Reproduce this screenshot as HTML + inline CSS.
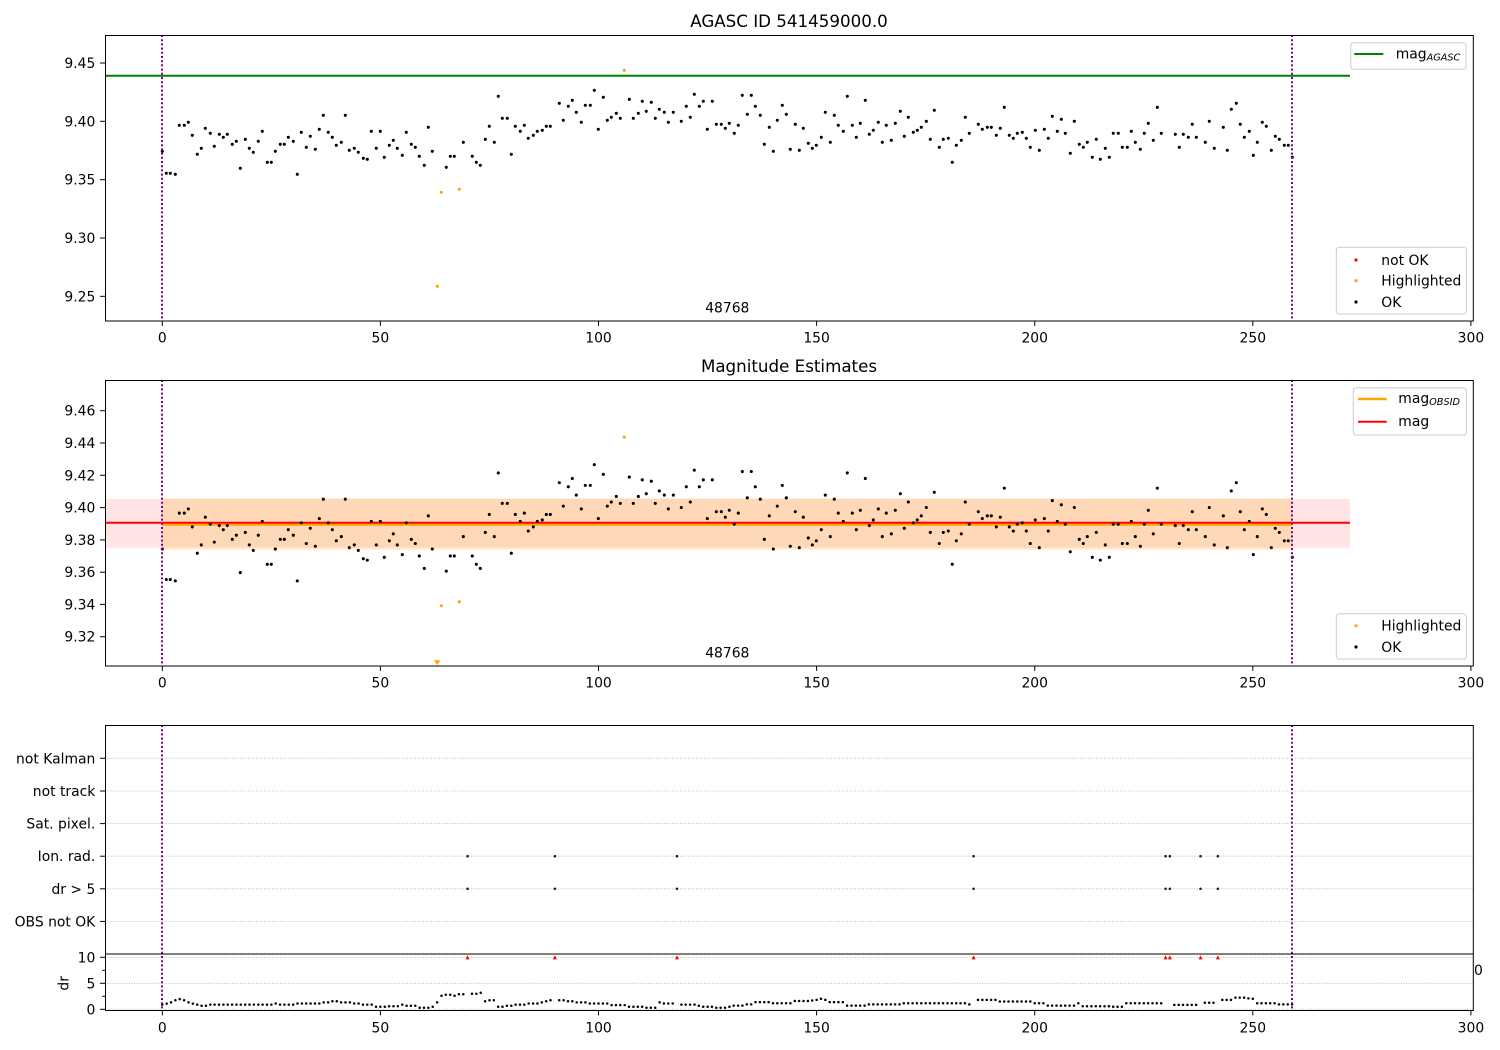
<!DOCTYPE html>
<html><head><meta charset="utf-8"><style>
html,body{margin:0;padding:0;background:#fff}
svg{display:block}
text{font-family:"DejaVu Sans","Liberation Sans",sans-serif;font-size:13.9px;fill:#000}
.t{font-size:16.7px}
.yl{text-anchor:end}
.xl{text-anchor:middle}
</style></head><body>
<svg width="1500" height="1050" viewBox="0 0 1500 1050" xmlns="http://www.w3.org/2000/svg">
<rect width="1500" height="1050" fill="#fff"/>

<!-- ================= PANEL 1 ================= -->
<text class="t" x="789" y="27" text-anchor="middle">AGASC ID 541459000.0</text>
<line x1="105" y1="75.7" x2="1350" y2="75.7" stroke="#008000" stroke-width="2"/>
<path fill="none" stroke="#000" stroke-width="3.1" stroke-linecap="round" d="M162.3 151.3h.01M166.3 173.3h.01M170.3 173.3h.01M175.3 174.3h.01M179.3 125.3h.01M184.3 125.3h.01M188.3 122.3h.01M192.3 135.3h.01M197.3 154.3h.01M201.3 148.3h.01M205.3 128.3h.01M210.3 133.3h.01M214.3 146.3h.01M219.3 134.3h.01M223.3 137.3h.01M227.3 134.3h.01M232.3 144.3h.01M236.3 141.3h.01M240.3 168.3h.01M245.3 139.3h.01M249.3 148.3h.01M253.3 152.3h.01M258.3 141.3h.01M262.3 131.3h.01M267.3 162.3h.01M271.3 162.3h.01M275.3 151.3h.01M280.3 144.3h.01M284.3 144.3h.01M288.3 137.3h.01M293.3 141.3h.01M297.3 174.3h.01M301.3 132.3h.01M306.3 147.3h.01M310.3 136.3h.01M315.3 149.3h.01M319.3 129.3h.01M323.3 115.3h.01M328.3 132.3h.01M332.3 137.3h.01M336.3 145.3h.01M341.3 142.3h.01M345.3 115.3h.01M349.3 150.3h.01M354.3 148.3h.01M358.3 152.3h.01M363.3 158.3h.01M367.3 159.3h.01M371.3 131.3h.01M376.3 148.3h.01M380.3 131.3h.01M384.3 157.3h.01M389.3 145.3h.01M393.3 140.3h.01M397.3 148.3h.01M402.3 155.3h.01M406.3 132.3h.01M411.3 144.3h.01M415.3 147.3h.01M419.3 156.3h.01M424.3 165.3h.01M428.3 127.3h.01M432.3 151.3h.01M446.3 167.3h.01M450.3 156.3h.01M454.3 156.3h.01M463.3 142.3h.01M472.3 156.3h.01M476.3 162.3h.01M480.3 165.3h.01M485.3 139.3h.01M489.3 126.3h.01M494.3 142.3h.01M498.3 96.3h.01M502.3 118.3h.01M507.3 118.3h.01M511.3 154.3h.01M515.3 126.3h.01M520.3 131.3h.01M524.3 125.3h.01M528.3 138.3h.01M533.3 135.3h.01M537.3 131.3h.01M542.3 130.3h.01M546.3 126.3h.01M550.3 126.3h.01M559.3 103.3h.01M563.3 120.3h.01M568.3 106.3h.01M572.3 100.3h.01M576.3 112.3h.01M581.3 122.3h.01M585.3 105.3h.01M590.3 105.3h.01M594.3 90.3h.01M598.3 129.3h.01M603.3 97.3h.01M607.3 120.3h.01M611.3 117.3h.01M616.3 113.3h.01M620.3 118.3h.01M629.3 99.3h.01M633.3 118.3h.01M638.3 113.3h.01M642.3 101.3h.01M646.3 111.3h.01M651.3 102.3h.01M655.3 118.3h.01M659.3 109.3h.01M664.3 112.3h.01M668.3 122.3h.01M673.3 112.3h.01M681.3 121.3h.01M686.3 106.3h.01M690.3 117.3h.01M694.3 94.3h.01M699.3 106.3h.01M703.3 101.3h.01M707.3 129.3h.01M712.3 101.3h.01M716.3 124.3h.01M721.3 124.3h.01M725.3 128.3h.01M729.3 123.3h.01M734.3 133.3h.01M738.3 125.3h.01M742.3 95.3h.01M747.3 114.3h.01M751.3 95.3h.01M755.3 106.3h.01M760.3 115.3h.01M764.3 144.3h.01M769.3 127.3h.01M773.3 151.3h.01M777.3 120.3h.01M782.3 105.3h.01M786.3 114.3h.01M790.3 149.3h.01M795.3 124.3h.01M799.3 150.3h.01M803.3 128.3h.01M808.3 143.3h.01M812.3 148.3h.01M816.3 145.3h.01M821.3 137.3h.01M825.3 112.3h.01M830.3 142.3h.01M834.3 115.3h.01M838.3 125.3h.01M843.3 131.3h.01M847.3 96.3h.01M852.3 125.3h.01M856.3 137.3h.01M860.3 123.3h.01M865.3 100.3h.01M869.3 134.3h.01M873.3 130.3h.01M878.3 122.3h.01M882.3 142.3h.01M886.3 125.3h.01M891.3 140.3h.01M895.3 123.3h.01M900.3 111.3h.01M904.3 136.3h.01M908.3 117.3h.01M913.3 132.3h.01M917.3 130.3h.01M921.3 127.3h.01M926.3 121.3h.01M930.3 139.3h.01M934.3 110.3h.01M939.3 147.3h.01M943.3 139.3h.01M948.3 138.3h.01M952.3 162.3h.01M956.3 145.3h.01M961.3 140.3h.01M965.3 117.3h.01M969.3 133.3h.01M978.3 124.3h.01M982.3 129.3h.01M987.3 127.3h.01M991.3 127.3h.01M996.3 135.3h.01M1000.3 128.3h.01M1004.3 107.3h.01M1009.3 135.3h.01M1013.3 138.3h.01M1017.3 133.3h.01M1022.3 132.3h.01M1026.3 138.3h.01M1030.3 147.3h.01M1035.3 130.3h.01M1039.3 150.3h.01M1044.3 129.3h.01M1048.3 138.3h.01M1052.3 116.3h.01M1057.3 131.3h.01M1061.3 119.3h.01M1065.3 133.3h.01M1070.3 153.3h.01M1074.3 121.3h.01M1079.3 144.3h.01M1083.3 147.3h.01M1087.3 142.3h.01M1092.3 157.3h.01M1096.3 139.3h.01M1100.3 159.3h.01M1105.3 148.3h.01M1109.3 157.3h.01M1113.3 133.3h.01M1118.3 133.3h.01M1122.3 147.3h.01M1127.3 147.3h.01M1131.3 131.3h.01M1135.3 142.3h.01M1140.3 149.3h.01M1144.3 133.3h.01M1148.3 123.3h.01M1153.3 140.3h.01M1157.3 107.3h.01M1161.3 133.3h.01M1175.3 134.3h.01M1179.3 147.3h.01M1183.3 134.3h.01M1188.3 137.3h.01M1192.3 124.3h.01M1196.3 137.3h.01M1205.3 142.3h.01M1209.3 121.3h.01M1214.3 148.3h.01M1223.3 127.3h.01M1227.3 150.3h.01M1231.3 109.3h.01M1236.3 103.3h.01M1240.3 124.3h.01M1244.3 137.3h.01M1249.3 131.3h.01M1253.3 155.3h.01M1257.3 142.3h.01M1262.3 122.3h.01M1266.3 126.3h.01M1271.3 150.3h.01M1275.3 136.3h.01M1279.3 139.3h.01M1284.3 145.3h.01M1288.3 145.3h.01M1292.3 157.3h.01"/>
<path fill="none" stroke="#ffa500" stroke-width="3.1" stroke-linecap="round" d="M437.3 286.3h.01M441.3 192.3h.01M459.3 189.3h.01M624.3 70.3h.01"/>
<line x1="162" y1="35" x2="162" y2="321" stroke="#800080" stroke-width="2" stroke-dasharray="2 2.2"/>
<line x1="1292" y1="35" x2="1292" y2="321" stroke="#800080" stroke-width="2" stroke-dasharray="2 2.2"/>
<text x="727.3" y="312.4" text-anchor="middle">48768</text>
<rect x="105.5" y="35.5" width="1367.8" height="285.5" fill="none" stroke="#000" stroke-width="1"/>
<g stroke="#000" stroke-width="1">
<line x1="100.1" y1="63" x2="105" y2="63"/><line x1="100.1" y1="121.33" x2="105" y2="121.33"/><line x1="100.1" y1="179.67" x2="105" y2="179.67"/><line x1="100.1" y1="238" x2="105" y2="238"/><line x1="100.1" y1="296.33" x2="105" y2="296.33"/>
<line x1="162.3" y1="321" x2="162.3" y2="325.9"/><line x1="380.4" y1="321" x2="380.4" y2="325.9"/><line x1="598.5" y1="321" x2="598.5" y2="325.9"/><line x1="816.6" y1="321" x2="816.6" y2="325.9"/><line x1="1034.7" y1="321" x2="1034.7" y2="325.9"/><line x1="1252.8" y1="321" x2="1252.8" y2="325.9"/><line x1="1470.9" y1="321" x2="1470.9" y2="325.9"/>
</g>
<text class="yl" x="95.3" y="68">9.45</text><text class="yl" x="95.3" y="126.3">9.40</text><text class="yl" x="95.3" y="184.7">9.35</text><text class="yl" x="95.3" y="243">9.30</text><text class="yl" x="95.3" y="301.3">9.25</text>
<text class="xl" x="162.3" y="342.4">0</text><text class="xl" x="380.4" y="342.4">50</text><text class="xl" x="598.5" y="342.4">100</text><text class="xl" x="816.6" y="342.4">150</text><text class="xl" x="1034.7" y="342.4">200</text><text class="xl" x="1252.8" y="342.4">250</text><text class="xl" x="1470.9" y="342.4">300</text>
<rect x="1350.7" y="42.7" width="115.3" height="26.6" rx="2.8" fill="#fff" fill-opacity="0.8" stroke="#cccccc" stroke-width="1"/>
<line x1="1354.3" y1="54" x2="1383.3" y2="54" stroke="#008000" stroke-width="2"/>
<text x="1395.7" y="58.3">mag<tspan font-size="9.7" font-style="italic" dy="2.2">AGASC</tspan></text>
<rect x="1336.3" y="247.3" width="130" height="66.7" rx="2.8" fill="#fff" fill-opacity="0.8" stroke="#cccccc" stroke-width="1"/>
<circle cx="1356" cy="260" r="1.6" fill="#ff0000"/><circle cx="1356" cy="280.7" r="1.6" fill="#ffa500"/><circle cx="1356" cy="302" r="1.6" fill="#000"/>
<text x="1381.3" y="265">not OK</text><text x="1381.3" y="285.7">Highlighted</text><text x="1381.3" y="307">OK</text>

<!-- ================= PANEL 2 ================= -->
<text class="t" x="789" y="372" text-anchor="middle">Magnitude Estimates</text>
<rect x="105" y="499" width="1245" height="48.7" fill="#ff0000" fill-opacity="0.1"/>
<rect x="162" y="498.3" width="1130" height="51.4" fill="#ffa500" fill-opacity="0.2"/>
<line x1="162" y1="524.7" x2="1292" y2="524.7" stroke="#ffa500" stroke-width="2"/>
<line x1="105" y1="522.7" x2="1350" y2="522.7" stroke="#ff0000" stroke-width="2"/>
<path fill="none" stroke="#000" stroke-width="3.1" stroke-linecap="round" vector-effect="non-scaling-stroke" transform="matrix(1 0 0 1.3839 0 339.66)" d="M162.3 151.3h.01M166.3 173.3h.01M170.3 173.3h.01M175.3 174.3h.01M179.3 125.3h.01M184.3 125.3h.01M188.3 122.3h.01M192.3 135.3h.01M197.3 154.3h.01M201.3 148.3h.01M205.3 128.3h.01M210.3 133.3h.01M214.3 146.3h.01M219.3 134.3h.01M223.3 137.3h.01M227.3 134.3h.01M232.3 144.3h.01M236.3 141.3h.01M240.3 168.3h.01M245.3 139.3h.01M249.3 148.3h.01M253.3 152.3h.01M258.3 141.3h.01M262.3 131.3h.01M267.3 162.3h.01M271.3 162.3h.01M275.3 151.3h.01M280.3 144.3h.01M284.3 144.3h.01M288.3 137.3h.01M293.3 141.3h.01M297.3 174.3h.01M301.3 132.3h.01M306.3 147.3h.01M310.3 136.3h.01M315.3 149.3h.01M319.3 129.3h.01M323.3 115.3h.01M328.3 132.3h.01M332.3 137.3h.01M336.3 145.3h.01M341.3 142.3h.01M345.3 115.3h.01M349.3 150.3h.01M354.3 148.3h.01M358.3 152.3h.01M363.3 158.3h.01M367.3 159.3h.01M371.3 131.3h.01M376.3 148.3h.01M380.3 131.3h.01M384.3 157.3h.01M389.3 145.3h.01M393.3 140.3h.01M397.3 148.3h.01M402.3 155.3h.01M406.3 132.3h.01M411.3 144.3h.01M415.3 147.3h.01M419.3 156.3h.01M424.3 165.3h.01M428.3 127.3h.01M432.3 151.3h.01M446.3 167.3h.01M450.3 156.3h.01M454.3 156.3h.01M463.3 142.3h.01M472.3 156.3h.01M476.3 162.3h.01M480.3 165.3h.01M485.3 139.3h.01M489.3 126.3h.01M494.3 142.3h.01M498.3 96.3h.01M502.3 118.3h.01M507.3 118.3h.01M511.3 154.3h.01M515.3 126.3h.01M520.3 131.3h.01M524.3 125.3h.01M528.3 138.3h.01M533.3 135.3h.01M537.3 131.3h.01M542.3 130.3h.01M546.3 126.3h.01M550.3 126.3h.01M559.3 103.3h.01M563.3 120.3h.01M568.3 106.3h.01M572.3 100.3h.01M576.3 112.3h.01M581.3 122.3h.01M585.3 105.3h.01M590.3 105.3h.01M594.3 90.3h.01M598.3 129.3h.01M603.3 97.3h.01M607.3 120.3h.01M611.3 117.3h.01M616.3 113.3h.01M620.3 118.3h.01M629.3 99.3h.01M633.3 118.3h.01M638.3 113.3h.01M642.3 101.3h.01M646.3 111.3h.01M651.3 102.3h.01M655.3 118.3h.01M659.3 109.3h.01M664.3 112.3h.01M668.3 122.3h.01M673.3 112.3h.01M681.3 121.3h.01M686.3 106.3h.01M690.3 117.3h.01M694.3 94.3h.01M699.3 106.3h.01M703.3 101.3h.01M707.3 129.3h.01M712.3 101.3h.01M716.3 124.3h.01M721.3 124.3h.01M725.3 128.3h.01M729.3 123.3h.01M734.3 133.3h.01M738.3 125.3h.01M742.3 95.3h.01M747.3 114.3h.01M751.3 95.3h.01M755.3 106.3h.01M760.3 115.3h.01M764.3 144.3h.01M769.3 127.3h.01M773.3 151.3h.01M777.3 120.3h.01M782.3 105.3h.01M786.3 114.3h.01M790.3 149.3h.01M795.3 124.3h.01M799.3 150.3h.01M803.3 128.3h.01M808.3 143.3h.01M812.3 148.3h.01M816.3 145.3h.01M821.3 137.3h.01M825.3 112.3h.01M830.3 142.3h.01M834.3 115.3h.01M838.3 125.3h.01M843.3 131.3h.01M847.3 96.3h.01M852.3 125.3h.01M856.3 137.3h.01M860.3 123.3h.01M865.3 100.3h.01M869.3 134.3h.01M873.3 130.3h.01M878.3 122.3h.01M882.3 142.3h.01M886.3 125.3h.01M891.3 140.3h.01M895.3 123.3h.01M900.3 111.3h.01M904.3 136.3h.01M908.3 117.3h.01M913.3 132.3h.01M917.3 130.3h.01M921.3 127.3h.01M926.3 121.3h.01M930.3 139.3h.01M934.3 110.3h.01M939.3 147.3h.01M943.3 139.3h.01M948.3 138.3h.01M952.3 162.3h.01M956.3 145.3h.01M961.3 140.3h.01M965.3 117.3h.01M969.3 133.3h.01M978.3 124.3h.01M982.3 129.3h.01M987.3 127.3h.01M991.3 127.3h.01M996.3 135.3h.01M1000.3 128.3h.01M1004.3 107.3h.01M1009.3 135.3h.01M1013.3 138.3h.01M1017.3 133.3h.01M1022.3 132.3h.01M1026.3 138.3h.01M1030.3 147.3h.01M1035.3 130.3h.01M1039.3 150.3h.01M1044.3 129.3h.01M1048.3 138.3h.01M1052.3 116.3h.01M1057.3 131.3h.01M1061.3 119.3h.01M1065.3 133.3h.01M1070.3 153.3h.01M1074.3 121.3h.01M1079.3 144.3h.01M1083.3 147.3h.01M1087.3 142.3h.01M1092.3 157.3h.01M1096.3 139.3h.01M1100.3 159.3h.01M1105.3 148.3h.01M1109.3 157.3h.01M1113.3 133.3h.01M1118.3 133.3h.01M1122.3 147.3h.01M1127.3 147.3h.01M1131.3 131.3h.01M1135.3 142.3h.01M1140.3 149.3h.01M1144.3 133.3h.01M1148.3 123.3h.01M1153.3 140.3h.01M1157.3 107.3h.01M1161.3 133.3h.01M1175.3 134.3h.01M1179.3 147.3h.01M1183.3 134.3h.01M1188.3 137.3h.01M1192.3 124.3h.01M1196.3 137.3h.01M1205.3 142.3h.01M1209.3 121.3h.01M1214.3 148.3h.01M1223.3 127.3h.01M1227.3 150.3h.01M1231.3 109.3h.01M1236.3 103.3h.01M1240.3 124.3h.01M1244.3 137.3h.01M1249.3 131.3h.01M1253.3 155.3h.01M1257.3 142.3h.01M1262.3 122.3h.01M1266.3 126.3h.01M1271.3 150.3h.01M1275.3 136.3h.01M1279.3 139.3h.01M1284.3 145.3h.01M1288.3 145.3h.01M1292.3 157.3h.01"/>
<path fill="none" stroke="#ffa500" stroke-width="3.1" stroke-linecap="round" d="M441.3 605.8h.01M459.3 601.7h.01M624.3 437h.01"/>
<polygon points="434,660.2 440.4,660.2 437.2,665" fill="#ffa500"/>
<line x1="162" y1="380" x2="162" y2="666" stroke="#800080" stroke-width="2" stroke-dasharray="2 2.2"/>
<line x1="1292" y1="380" x2="1292" y2="666" stroke="#800080" stroke-width="2" stroke-dasharray="2 2.2"/>
<text x="727.3" y="657.4" text-anchor="middle">48768</text>
<rect x="105.5" y="380.5" width="1367.8" height="285.5" fill="none" stroke="#000" stroke-width="1"/>
<g stroke="#000" stroke-width="1">
<line x1="100.1" y1="410.7" x2="105" y2="410.7"/><line x1="100.1" y1="443" x2="105" y2="443"/><line x1="100.1" y1="475.3" x2="105" y2="475.3"/><line x1="100.1" y1="507.6" x2="105" y2="507.6"/><line x1="100.1" y1="539.9" x2="105" y2="539.9"/><line x1="100.1" y1="572.2" x2="105" y2="572.2"/><line x1="100.1" y1="604.4" x2="105" y2="604.4"/><line x1="100.1" y1="636.7" x2="105" y2="636.7"/>
<line x1="162.3" y1="666" x2="162.3" y2="670.9"/><line x1="380.4" y1="666" x2="380.4" y2="670.9"/><line x1="598.5" y1="666" x2="598.5" y2="670.9"/><line x1="816.6" y1="666" x2="816.6" y2="670.9"/><line x1="1034.7" y1="666" x2="1034.7" y2="670.9"/><line x1="1252.8" y1="666" x2="1252.8" y2="670.9"/><line x1="1470.9" y1="666" x2="1470.9" y2="670.9"/>
</g>
<text class="yl" x="95.3" y="415.7">9.46</text><text class="yl" x="95.3" y="448">9.44</text><text class="yl" x="95.3" y="480.3">9.42</text><text class="yl" x="95.3" y="512.6">9.40</text><text class="yl" x="95.3" y="544.9">9.38</text><text class="yl" x="95.3" y="577.2">9.36</text><text class="yl" x="95.3" y="609.4">9.34</text><text class="yl" x="95.3" y="641.7">9.32</text>
<text class="xl" x="162.3" y="687.4">0</text><text class="xl" x="380.4" y="687.4">50</text><text class="xl" x="598.5" y="687.4">100</text><text class="xl" x="816.6" y="687.4">150</text><text class="xl" x="1034.7" y="687.4">200</text><text class="xl" x="1252.8" y="687.4">250</text><text class="xl" x="1470.9" y="687.4">300</text>
<rect x="1353.3" y="387.7" width="113" height="47.3" rx="2.8" fill="#fff" fill-opacity="0.8" stroke="#cccccc" stroke-width="1"/>
<line x1="1358" y1="399" x2="1386.7" y2="399" stroke="#ffa500" stroke-width="2.5"/>
<line x1="1358" y1="421.7" x2="1386.7" y2="421.7" stroke="#ff0000" stroke-width="2"/>
<text x="1398.3" y="403">mag<tspan font-size="9.7" font-style="italic" dy="2.2">OBSID</tspan></text>
<text x="1398.3" y="426">mag</text>
<rect x="1336.3" y="613.7" width="130" height="45.3" rx="2.8" fill="#fff" fill-opacity="0.8" stroke="#cccccc" stroke-width="1"/>
<circle cx="1356" cy="625.7" r="1.6" fill="#ffa500"/><circle cx="1356" cy="647" r="1.6" fill="#000"/>
<text x="1381.3" y="630.7">Highlighted</text><text x="1381.3" y="652">OK</text>

<!-- ================= PANEL 3 ================= -->
<g stroke="#b0b0b0" stroke-width="0.8" stroke-dasharray="1 1.65">
<line x1="105" y1="758.3" x2="1473" y2="758.3"/><line x1="105" y1="791" x2="1473" y2="791"/><line x1="105" y1="823.6" x2="1473" y2="823.6"/><line x1="105" y1="856.2" x2="1473" y2="856.2"/><line x1="105" y1="888.8" x2="1473" y2="888.8"/><line x1="105" y1="921.4" x2="1473" y2="921.4"/>
<line x1="105" y1="957.3" x2="1473" y2="957.3"/><line x1="105" y1="983.3" x2="1473" y2="983.3"/><line x1="105" y1="1009.3" x2="1473" y2="1009.3"/>
</g>
<path fill="none" stroke="#222" stroke-width="2.6" stroke-linecap="round" d="M467.6 856.2h.01M554.9 856.2h.01M677 856.2h.01M973.6 856.2h.01M1165.6 856.2h.01M1169.9 856.2h.01M1200.5 856.2h.01M1217.9 856.2h.01M467.6 888.8h.01M554.9 888.8h.01M677 888.8h.01M973.6 888.8h.01M1165.6 888.8h.01M1169.9 888.8h.01M1200.5 888.8h.01M1217.9 888.8h.01"/>
<g fill="#ff0000">
<polygon points="465.6,959.4 469.6,959.4 467.6,955.4"/><polygon points="552.9,959.4 556.9,959.4 554.9,955.4"/><polygon points="675,959.4 679,959.4 677,955.4"/><polygon points="971.6,959.4 975.6,959.4 973.6,955.4"/><polygon points="1163.6,959.4 1167.6,959.4 1165.6,955.4"/><polygon points="1167.9,959.4 1171.9,959.4 1169.9,955.4"/><polygon points="1198.5,959.4 1202.5,959.4 1200.5,955.4"/><polygon points="1215.9,959.4 1219.9,959.4 1217.9,955.4"/>
</g>
<path fill="none" stroke="#000" stroke-width="2.5" stroke-linecap="round" d="M162.3 1004.6h.01M166.7 1003.6h.01M171 1002.4h.01M175.4 1000.2h.01M179.7 999.1h.01M184.1 1000.2h.01M188.5 1002.4h.01M192.8 1003.6h.01M197.2 1004.6h.01M201.6 1005.7h.01M205.9 1005.7h.01M210.3 1004.6h.01M214.6 1004.6h.01M219 1004.6h.01M223.4 1004.6h.01M227.7 1004.6h.01M232.1 1004.6h.01M236.5 1004.6h.01M240.8 1004.6h.01M245.2 1004.6h.01M249.5 1004.6h.01M253.9 1004.6h.01M258.3 1004.6h.01M262.6 1004.6h.01M267 1004.6h.01M271.4 1004.6h.01M275.7 1003.5h.01M280.1 1004.6h.01M284.4 1004.6h.01M288.8 1004.6h.01M293.2 1004.6h.01M297.5 1003.5h.01M301.9 1003.5h.01M306.2 1003.5h.01M310.6 1003.5h.01M315 1003.5h.01M319.3 1003.5h.01M323.7 1002.4h.01M328.1 1002.4h.01M332.4 1001.3h.01M336.8 1001.3h.01M341.1 1002.4h.01M345.5 1002.4h.01M349.9 1002.4h.01M354.2 1003.5h.01M358.6 1003.5h.01M363 1004.6h.01M367.3 1004.6h.01M371.7 1004.6h.01M376 1006.8h.01M380.4 1006.8h.01M384.8 1006.8h.01M389.1 1006.2h.01M393.5 1006.2h.01M397.8 1006.2h.01M402.2 1004.6h.01M406.6 1005.7h.01M410.9 1005.7h.01M415.3 1005.7h.01M419.7 1007.8h.01M424 1007.8h.01M428.4 1007.8h.01M432.7 1006.8h.01M437.1 1002.4h.01M441.5 995.8h.01M445.8 994.7h.01M450.2 994.7h.01M454.6 995.8h.01M458.9 994.2h.01M463.3 994.2h.01M472 993.7h.01M476.4 993.7h.01M480.7 992.7h.01M485.1 1001.3h.01M489.5 1000.2h.01M493.8 1000.2h.01M498.2 1006.8h.01M502.5 1006.8h.01M506.9 1005.7h.01M511.3 1005.7h.01M515.6 1004.6h.01M520 1004.6h.01M524.3 1004.6h.01M528.7 1003.5h.01M533.1 1003.5h.01M537.4 1003.5h.01M541.8 1002.4h.01M546.2 1001.3h.01M550.5 1000.2h.01M559.2 1000.2h.01M563.6 1000.2h.01M568 1001.3h.01M572.3 1001.3h.01M576.7 1002.4h.01M581.1 1002.4h.01M585.4 1002.4h.01M589.8 1003.5h.01M594.1 1003.5h.01M598.5 1003.5h.01M602.9 1003.5h.01M607.2 1003.5h.01M611.6 1005.1h.01M615.9 1005.1h.01M620.3 1005.1h.01M624.7 1005.1h.01M629 1006.8h.01M633.4 1006.8h.01M637.8 1006.8h.01M642.1 1006.8h.01M646.5 1007.8h.01M650.8 1007.8h.01M655.2 1007.8h.01M659.6 1002.4h.01M663.9 1003.5h.01M668.3 1003.5h.01M672.7 1003.5h.01M681.4 1004.6h.01M685.7 1004.6h.01M690.1 1004.6h.01M694.5 1004.6h.01M698.8 1005.7h.01M703.2 1006.8h.01M707.6 1006.8h.01M711.9 1006.8h.01M716.3 1007.8h.01M720.6 1007.8h.01M725 1007.8h.01M729.4 1006.7h.01M733.7 1005.6h.01M738.1 1005.6h.01M742.4 1005.6h.01M746.8 1004.4h.01M751.2 1004.4h.01M755.5 1002.1h.01M759.9 1002.1h.01M764.3 1002.1h.01M768.6 1002.1h.01M773 1003.3h.01M777.3 1003.3h.01M781.7 1003.3h.01M786.1 1003.3h.01M790.4 1003.3h.01M794.8 1001h.01M799.1 1001h.01M803.5 1001h.01M807.9 1001h.01M812.2 1000.5h.01M816.6 999.9h.01M821 998.7h.01M825.3 999.9h.01M829.7 1002.1h.01M834 1002.1h.01M838.4 1002.1h.01M842.8 1002.1h.01M847.1 1005.6h.01M851.5 1005.6h.01M855.9 1005.6h.01M860.2 1005.6h.01M864.6 1005.6h.01M868.9 1004.4h.01M873.3 1004.4h.01M877.7 1004.4h.01M882 1004.4h.01M886.4 1004.4h.01M890.8 1004.4h.01M895.1 1004.4h.01M899.5 1004.4h.01M903.8 1003.3h.01M908.2 1003.3h.01M912.6 1003.3h.01M916.9 1003.3h.01M921.3 1003.3h.01M925.7 1003.3h.01M930 1003.3h.01M934.4 1003.3h.01M938.7 1003.3h.01M943.1 1003.3h.01M947.5 1003.3h.01M951.8 1003.3h.01M956.2 1003.3h.01M960.5 1003.3h.01M964.9 1003.3h.01M969.3 1004.4h.01M978 999.9h.01M982.4 999.9h.01M986.7 999.9h.01M991.1 999.9h.01M995.4 999.9h.01M999.8 1001.5h.01M1004.2 1001.5h.01M1008.5 1001.5h.01M1012.9 1001.5h.01M1017.3 1001.5h.01M1021.6 1001.5h.01M1026 1001.5h.01M1030.3 1001.5h.01M1034.7 1003.3h.01M1039.1 1003.3h.01M1043.4 1003.3h.01M1047.8 1005.6h.01M1052.1 1005.6h.01M1056.5 1005.6h.01M1060.9 1005.6h.01M1065.2 1005.6h.01M1069.6 1005.6h.01M1074 1005.6h.01M1078.3 1003.3h.01M1082.7 1006.2h.01M1087 1006.2h.01M1091.4 1006.2h.01M1095.8 1006.2h.01M1100.1 1006.2h.01M1104.5 1006.2h.01M1108.9 1006.2h.01M1113.2 1006.7h.01M1117.6 1006.7h.01M1121.9 1006.7h.01M1126.3 1003.3h.01M1130.7 1003.3h.01M1135 1003.3h.01M1139.4 1003.3h.01M1143.8 1003.3h.01M1148.1 1003.3h.01M1152.5 1003.3h.01M1156.8 1003.3h.01M1161.2 1003.3h.01M1174.3 1004.9h.01M1178.7 1004.9h.01M1183 1004.9h.01M1187.4 1004.9h.01M1191.7 1004.9h.01M1196.1 1004.9h.01M1204.8 1002.8h.01M1209.2 1002.8h.01M1213.5 1002.8h.01M1222.3 999.9h.01M1226.6 999.9h.01M1231 999.9h.01M1235.4 997.6h.01M1239.7 997.6h.01M1244.1 997.6h.01M1248.4 998.4h.01M1252.8 998.7h.01M1257.2 1003.3h.01M1261.5 1003.3h.01M1265.9 1003.3h.01M1270.2 1003.3h.01M1274.6 1003.3h.01M1279 1004.4h.01M1283.3 1004.4h.01M1287.7 1004.4h.01M1292.1 1004.4h.01"/>
<line x1="162" y1="725" x2="162" y2="1010.5" stroke="#800080" stroke-width="2" stroke-dasharray="2 2.2"/>
<line x1="1292" y1="725" x2="1292" y2="1010.5" stroke="#800080" stroke-width="2" stroke-dasharray="2 2.2"/>
<rect x="105.5" y="725.5" width="1367.8" height="285" fill="none" stroke="#000" stroke-width="1"/>
<line x1="105" y1="954" x2="1473.3" y2="954" stroke="#000" stroke-width="1"/>
<g stroke="#000" stroke-width="1">
<line x1="100.1" y1="758.3" x2="105" y2="758.3"/><line x1="100.1" y1="791" x2="105" y2="791"/><line x1="100.1" y1="823.6" x2="105" y2="823.6"/><line x1="100.1" y1="856.2" x2="105" y2="856.2"/><line x1="100.1" y1="888.8" x2="105" y2="888.8"/><line x1="100.1" y1="921.4" x2="105" y2="921.4"/>
<line x1="100.1" y1="957.3" x2="105" y2="957.3"/><line x1="100.1" y1="983.3" x2="105" y2="983.3"/><line x1="100.1" y1="1009.3" x2="105" y2="1009.3"/>
<line x1="102.2" y1="970.3" x2="105" y2="970.3"/><line x1="102.2" y1="996.3" x2="105" y2="996.3"/>
<line x1="162.3" y1="1010.5" x2="162.3" y2="1015.4"/><line x1="380.4" y1="1010.5" x2="380.4" y2="1015.4"/><line x1="598.5" y1="1010.5" x2="598.5" y2="1015.4"/><line x1="816.6" y1="1010.5" x2="816.6" y2="1015.4"/><line x1="1034.7" y1="1010.5" x2="1034.7" y2="1015.4"/><line x1="1252.8" y1="1010.5" x2="1252.8" y2="1015.4"/><line x1="1470.9" y1="1010.5" x2="1470.9" y2="1015.4"/>
</g>
<text class="yl" x="95.3" y="763.3">not Kalman</text><text class="yl" x="95.3" y="796">not track</text><text class="yl" x="95.3" y="828.6">Sat. pixel.</text><text class="yl" x="95.3" y="861.2">Ion. rad.</text><text class="yl" x="95.3" y="893.8">dr &gt; 5</text><text class="yl" x="95.3" y="926.4">OBS not OK</text>
<text class="yl" x="95.3" y="962.3">10</text><text class="yl" x="95.3" y="988.3">5</text><text class="yl" x="95.3" y="1014.3">0</text>
<text transform="translate(68.3,983.3) rotate(-90)" text-anchor="middle">dr</text>
<text class="xl" x="162.3" y="1032.7">0</text><text class="xl" x="380.4" y="1032.7">50</text><text class="xl" x="598.5" y="1032.7">100</text><text class="xl" x="816.6" y="1032.7">150</text><text class="xl" x="1034.7" y="1032.7">200</text><text class="xl" x="1252.8" y="1032.7">250</text><text class="xl" x="1470.9" y="1032.7">300</text>
<text x="1474" y="975">0</text>
</svg>
</body></html>
